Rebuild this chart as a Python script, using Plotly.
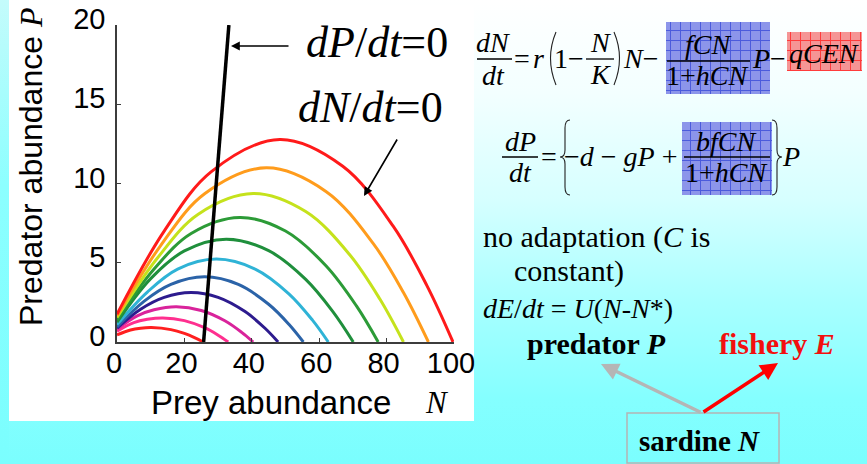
import base64
import plotly.graph_objects as go

W, H = 867, 464

# ---------------- data ----------------
# prey isoclines dN/dt = 0, one per value of C (smallest first)
c1_N = [0, 4, 7, 10.2, 16, 20, 23, 25.6]
c1_P = [0.45, 0.76, 0.87, 0.91, 0.78, 0.54, 0.28, 0]
c2_N = [0, 5, 9, 13.6, 20, 26, 30, 33]
c2_P = [0.68, 1.22, 1.43, 1.52, 1.35, 0.90, 0.43, 0]
c3_N = [0, 6, 11, 17.6, 25, 32, 37, 40.4]
c3_P = [0.82, 1.65, 2.03, 2.22, 1.99, 1.34, 0.61, 0]
c4_N = [0, 7, 14, 22, 30, 38, 44, 47.8]
c4_P = [0.88, 2.07, 2.82, 3.12, 2.82, 1.92, 0.85, 0]
c5_N = [0, 8, 16, 26, 36, 45, 51, 55.3]
c5_P = [0.95, 2.56, 3.63, 4.11, 3.63, 2.38, 1.12, 0]
c6_N = [0, 9, 18, 29.5, 41, 51, 58, 62.7]
c6_P = [1.10, 3.15, 4.60, 5.23, 4.60, 3.04, 1.38, 0]
c7_N = [0, 10, 20, 32.4, 45, 56, 64, 70.1]
c7_P = [1.25, 4.00, 5.75, 6.49, 5.76, 3.95, 1.93, 0]
c8_N = [0, 11, 22, 36.4, 50, 62, 71, 77.5]
c8_P = [1.40, 4.60, 6.85, 7.86, 7.00, 4.81, 2.29, 0]
c9_N = [0, 12, 24, 40.4, 56, 69, 78, 85]
c9_P = [1.55, 5.30, 8.05, 9.37, 8.23, 5.52, 2.71, 0]
c10_N = [0, 13, 26, 44.3, 62, 76, 85, 92.4]
c10_P = [1.65, 6.10, 9.35, 10.99, 9.50, 6.22, 3.12, 0]
c11_N = [0, 14, 28, 48.3, 67, 82, 92, 99.7]
c11_P = [1.75, 7.00, 10.75, 12.78, 11.09, 7.29, 3.54, 0]

curve_colors = ['#ff1f1f', '#ff2f8f', '#d9239b', '#2d1b8e', '#2b63a8', '#2fb3d6',
                '#1f8f3c', '#2c9b37', '#c5e21c', '#ff9c1c', '#ff1a1a']

# predator isocline dP/dt = 0
iso_N = [25.7, 33.2]
iso_P = [0, 20]

x_ticks = [0, 20, 40, 60, 80, 100]
y_ticks = [0, 5, 10, 15, 20]

SERIF = "Liberation Serif, Times New Roman, serif"
SANS = "Liberation Sans, Arial, sans-serif"


def px(x):
    return x / W


def py(y):
    return 1 - y / H


# ---------------- slide background (decoration only) ----------------
svg = f'''<svg xmlns="http://www.w3.org/2000/svg" width="{W}" height="{H}" viewBox="0 0 {W} {H}">
<defs>
<linearGradient id="bg" x1="0" y1="0" x2="0" y2="1">
<stop offset="0" stop-color="#ffffff"/>
<stop offset="0.2" stop-color="#f3ffff"/>
<stop offset="0.43" stop-color="#d6ffff"/>
<stop offset="0.65" stop-color="#a8ffff"/>
<stop offset="0.86" stop-color="#84ffff"/>
<stop offset="1" stop-color="#7afefe"/>
</linearGradient>
<linearGradient id="lf" x1="0" y1="0" x2="0" y2="1">
<stop offset="0" stop-color="#c4fbfb"/>
<stop offset="0.4" stop-color="#8cffff"/>
<stop offset="1" stop-color="#7afefe"/>
</linearGradient>
<pattern id="pb" width="10" height="10" patternUnits="userSpaceOnUse">
<rect width="10" height="10" fill="#8c95ea"/>
<path d="M0.5 0V10M0 0.5H10" stroke="#4b5bdc" stroke-width="1"/>
</pattern>
<pattern id="pr" width="10" height="10" patternUnits="userSpaceOnUse">
<rect width="10" height="10" fill="#f59595"/>
<path d="M0.5 0V10M0 0.5H10" stroke="#ff3b3b" stroke-width="1"/>
</pattern>
</defs>
<rect width="{W}" height="{H}" fill="url(#bg)"/>
<rect x="0" y="0" width="9" height="{H}" fill="url(#lf)"/>
<rect x="9" y="5" width="465" height="416" fill="#ffffff"/>
<rect x="666" y="22" width="104" height="72" fill="url(#pb)"/>
<rect x="682" y="122" width="90" height="73" fill="url(#pb)"/>
<rect x="787" y="32" width="75" height="39" fill="url(#pr)"/>
<g stroke="#000" stroke-width="1.3" fill="none">
<path d="M477 59H512"/>
<path d="M586 59H614"/>
<path d="M667 61H750"/>
<path d="M502 157H538"/>
<path d="M684 157H770"/>
</g>
<g stroke="#222" stroke-width="1.1" fill="none">
<path d="M556 32Q545 58 556 85"/>
<path d="M614 32Q625 58 614 85"/>
<path d="M570 120Q565 120 565 128L565 150Q565 157 560 157Q565 157 565 164L565 187Q565 195 570 195"/>
<path d="M772 120Q777 120 777 128L777 150Q777 157 782 157Q777 157 777 164L777 187Q777 195 772 195"/>
</g>
<rect x="627" y="413" width="152" height="50" fill="none" stroke="#b4b4b4" stroke-width="1.5"/>
</svg>'''
bg_uri = "data:image/svg+xml;base64," + base64.b64encode(svg.encode()).decode()

# ---------------- figure ----------------
fig = go.Figure()
curves = [(c1_N, c1_P), (c2_N, c2_P), (c3_N, c3_P), (c4_N, c4_P), (c5_N, c5_P),
          (c6_N, c6_P), (c7_N, c7_P), (c8_N, c8_P), (c9_N, c9_P), (c10_N, c10_P),
          (c11_N, c11_P)]
for (xs, ys), col in zip(curves, curve_colors):
    fig.add_trace(go.Scatter(x=xs, y=ys, mode='lines',
                             line=dict(color=col, width=3, shape='spline', smoothing=1.0),
                             showlegend=False, hoverinfo='skip', cliponaxis=False))
fig.add_trace(go.Scatter(x=iso_N, y=iso_P, mode='lines',
                         line=dict(color='black', width=3.5),
                         showlegend=False, hoverinfo='skip', cliponaxis=False))

axis_common = dict(showgrid=False, zeroline=False, showline=True, linecolor='#3c3c3c',
                   linewidth=1.6, ticks='inside', ticklen=4, tickcolor='#3c3c3c',
                   tickwidth=1.2, tickfont=dict(family=SANS, size=29, color='black'),
                   fixedrange=True, automargin=False)
fig.update_layout(
    width=W, height=H, autosize=False,
    margin=dict(l=0, r=0, t=0, b=0, pad=0, autoexpand=False),
    showlegend=False,
    paper_bgcolor='#7afefe', plot_bgcolor='rgba(0,0,0,0)',
    xaxis=dict(domain=[px(117), px(454)], range=[0, 100], tickvals=x_ticks,
               ticklabelshift=-3, ticklabelstandoff=-6, **axis_common),
    yaxis=dict(domain=[py(342), py(25)], range=[0, 20], tickvals=y_ticks,
               ticklabelstandoff=4, ticklabelshift=-6, **axis_common),
    images=[dict(source=bg_uri, xref='paper', yref='paper', x=0, y=1, sizex=1, sizey=1,
                 xanchor='left', yanchor='top', sizing='stretch', layer='below')],
)

annotations = []


def ann(text, x, y, size, family=SERIF, color='black', xanchor='center', yanchor='middle', **kw):
    annotations.append(dict(text=text, x=px(x), y=py(y), xref='paper', yref='paper',
                            showarrow=False, xanchor=xanchor, yanchor=yanchor,
                            font=dict(family=family, size=size, color=color), **kw))


def arrow(x_head, y_head, x_tail, y_tail, color, width, size=1.0, head=2):
    annotations.append(dict(text='', x=px(x_head), y=py(y_head), xref='paper', yref='paper',
                            showarrow=True, ax=x_tail - x_head, ay=y_tail - y_head,
                            arrowcolor=color, arrowwidth=width, arrowsize=size,
                            arrowhead=head))


# axis titles
ann("Prey abundance", 271, 402, 33, family=SANS)
ann("<i>N</i>", 437, 402, 31)
ann("Predator abundance <span style='font-family:Liberation Serif'><i>P</i></span>",
    31, 167, 32, family=SANS, textangle=-90)

# isocline labels
ann("<i>dP</i>/<i>dt</i>=0", 377, 43, 44)
ann("<i>dN</i>/<i>dt</i>=0", 370, 108, 44)
arrow(231, 46, 290, 46, 'black', 1.6, 1.1, 2)
arrow(364, 196, 398, 138, 'black', 1.6, 1.1, 2)

# equation 1
F = 28
ann("<i>dN</i>", 493, 43, F)
ann("<i>dt</i>", 493, 75, F)
ann("=", 522, 58, F)
ann("<i>r</i>", 538, 58, F)
ann("1−", 569, 58, F)
ann("<i>N</i>", 600, 42, F)
ann("<i>K</i>", 600, 74, F)
ann("<i>N</i>−", 640, 58, F)
ann("<i>fCN</i>", 708, 44, F)
ann("1+<i>hCN</i>", 707, 76, F)
ann("<i>P</i>−", 769, 58, F)
ann("<i>qCEN</i>", 824, 53, F)

# equation 2
ann("<i>dP</i>", 520, 141, F)
ann("<i>dt</i>", 520, 173, F)
ann("=", 549, 156, F)
ann("−<i>d</i> − <i>gP</i> +", 621, 156, F)
ann("<i>bfCN</i>", 726, 141, F)
ann("1+<i>hCN</i>", 726, 173, F)
ann("<i>P</i>", 791, 156, F)

# text block
ann("no adaptation (<i>C</i> is", 481, 237, 30, xanchor='left')
ann("constant)", 512, 271, 30, xanchor='left')
ann("<i>dE</i>/<i>dt</i> = <i>U</i>(<i>N</i>-<i>N</i>*)", 481, 308, 28, xanchor='left')
ann("<b>predator <i>P</i></b>", 596, 343, 30)
ann("<b>fishery <i>E</i></b>", 777, 343, 30, color='#f20f0f')
ann("<b>sardine <i>N</i></b>", 699, 441, 29)

# diagram arrows
arrow(601, 364, 702, 413, '#b5b5b5', 3.5, 1.0, 2)
arrow(778, 363, 702, 413, '#ff0000', 3.5, 1.0, 2)

fig.update_layout(annotations=annotations)
fig.write_html("out.html")
